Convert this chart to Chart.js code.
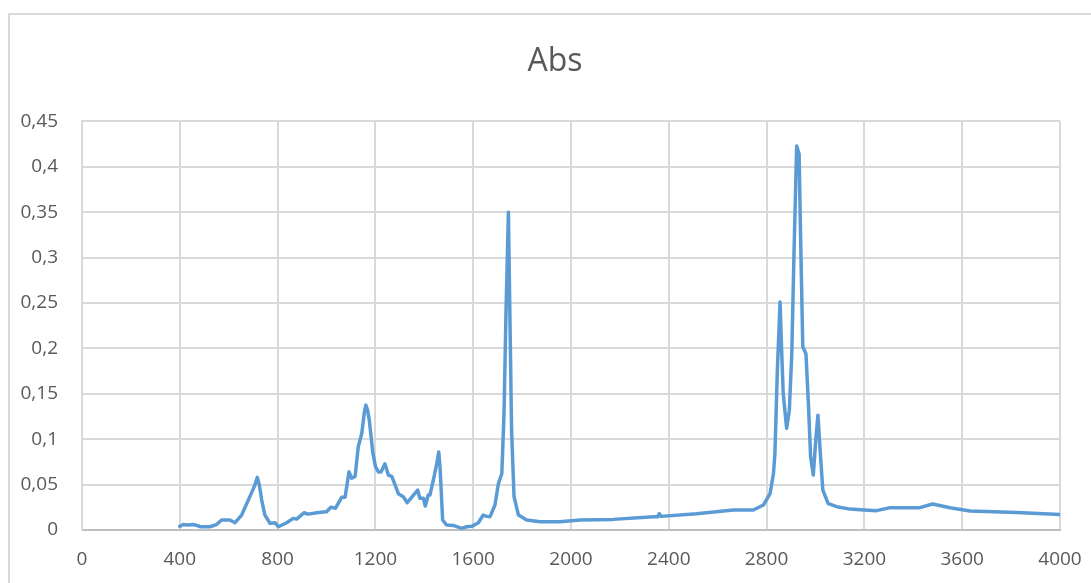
<!DOCTYPE html>
<html>
<head>
<meta charset="utf-8">
<title>Abs</title>
<script src="https://cdn.jsdelivr.net/npm/chart.js@4/dist/chart.umd.min.js"></script>
<style>
    html, body { margin: 0; padding: 0; background: #fff; }
    #frame {
        position: absolute; left: 8px; top: 13px; width: 1100px; height: 600px;
        border-left: 2px solid #d9d9d9; border-top: 2px solid #d9d9d9;
    }
    #wrap { position: absolute; left: 0; top: 0; width: 1091px; height: 583px; }
</style>
</head>
<body>
<div id="frame"></div>
<div id="wrap"><canvas id="absChart" width="1091" height="583"></canvas></div>
<script>
// Wavenumber (x) and absorbance (y)
const wavenumbers = [
    400, 414, 430, 454, 470, 483, 523, 550, 571, 605, 626, 653, 687, 705, 717, 725, 735, 748,
    769, 789, 803, 837, 864, 878, 908, 925, 960, 987, 1000, 1018, 1037, 1062, 1076, 1092,
    1103, 1117, 1130, 1144, 1155, 1161, 1168, 1175, 1189, 1200, 1212, 1223, 1239, 1253,
    1267, 1280, 1294, 1314, 1330, 1348, 1373, 1382, 1396, 1404, 1416, 1423, 1440, 1451,
    1459, 1464, 1467, 1475, 1491, 1519, 1553, 1573, 1594, 1621, 1641, 1655, 1669, 1689,
    1703, 1717, 1726, 1734, 1744, 1750, 1757, 1767, 1785, 1819, 1873, 1955, 2037, 2173,
    2337, 2355, 2361, 2368, 2514, 2664, 2746, 2787, 2814, 2828, 2834, 2844, 2855, 2862,
    2868, 2882, 2893, 2903, 2912, 2923, 2933, 2939, 2948, 2961, 2971, 2980, 2991, 3001,
    3010, 3018, 3030, 3052, 3087, 3141, 3200, 3250, 3305, 3427, 3479, 3550, 3632, 3823, 4000
];
const absorbance = [
    0.004, 0.006, 0.0055, 0.006, 0.005, 0.0036, 0.0036, 0.006, 0.011, 0.011, 0.008, 0.0165, 0.037, 0.048, 0.058, 0.05, 0.033, 0.0165,
    0.0073, 0.008, 0.0036, 0.008, 0.0128, 0.012, 0.019, 0.0175, 0.019, 0.0198, 0.02, 0.025, 0.024, 0.036, 0.036, 0.064,
    0.057, 0.059, 0.092, 0.106, 0.13, 0.1375, 0.132, 0.121, 0.086, 0.07, 0.064, 0.064, 0.073, 0.0605,
    0.059, 0.05, 0.040, 0.0367, 0.030, 0.036, 0.044, 0.035, 0.035, 0.0264, 0.0385, 0.0385, 0.0587, 0.073,
    0.086, 0.07, 0.055, 0.011, 0.0055, 0.005, 0.0018, 0.0036, 0.004, 0.008, 0.0165, 0.015, 0.0147, 0.0275,
    0.051, 0.062, 0.128, 0.238, 0.350, 0.238, 0.11, 0.0367, 0.0165, 0.011, 0.009, 0.009, 0.011, 0.0117,
    0.0147, 0.0145, 0.018, 0.015, 0.018, 0.022, 0.022, 0.0275, 0.040, 0.062, 0.084, 0.176, 0.251, 0.194,
    0.150, 0.112, 0.132, 0.194, 0.304, 0.423, 0.414, 0.323, 0.2017, 0.194, 0.139, 0.0807, 0.0605, 0.099,
    0.1265, 0.0917, 0.044, 0.029, 0.0257, 0.023, 0.022, 0.0213, 0.0246, 0.0246, 0.0286, 0.0246, 0.021, 0.0194, 0.0172
];

const xMin = 0, xMax = 4000, xStep = 400;
const yMin = 0, yMax = 0.45, yStep = 0.05;

const textColor = '#595959';
const gridColor = '#d9d9d9';
const fontFamily = "'Open Sans', 'Liberation Sans', sans-serif";

const points = wavenumbers.map((x, i) => ({ x: x, y: absorbance[i] }));

// Excel centres the title a bit to the right of the canvas centre
const titleShift = {
    id: 'titleShift',
    afterLayout(chart) {
        if (chart.titleBlock) chart.titleBlock.left = 50;
    }
};

new Chart(document.getElementById('absChart'), {
    type: 'scatter',
    data: {
        datasets: [{
            label: 'Abs',
            data: points,
            showLine: true,
            borderColor: '#5b9bd5',
            borderWidth: 3.5,
            borderJoinStyle: 'round',
            borderCapStyle: 'round',
            pointRadius: 0,
            tension: 0
        }]
    },
    options: {
        responsive: false,
        animation: false,
        layout: { padding: { left: 0, right: 31, top: 0, bottom: 0 } },
        plugins: {
            legend: { display: false },
            tooltip: { enabled: false },
            title: {
                display: true,
                text: 'Abs',
                color: textColor,
                font: { family: fontFamily, size: 32, weight: 'normal' },
                padding: { top: 43, bottom: 40 }
            }
        },
        scales: {
            x: {
                type: 'linear',
                min: xMin,
                max: xMax,
                grid: { color: gridColor, lineWidth: 2, drawTicks: false },
                border: { color: '#bfbfbf', width: 2 },
                ticks: {
                    stepSize: xStep,
                    color: textColor,
                    padding: 18,
                    font: { family: fontFamily, size: 19 },
                    maxRotation: 0,
                    callback: v => String(v)
                },
                afterFit: s => { s.height = 53; s.paddingLeft = 0; s.paddingRight = 0; }
            },
            y: {
                type: 'linear',
                min: yMin,
                max: yMax,
                grid: { color: gridColor, lineWidth: 2, drawTicks: false },
                border: { color: gridColor, width: 2 },
                ticks: {
                    stepSize: yStep,
                    color: textColor,
                    padding: 24,
                    font: { family: fontFamily, size: 19 },
                    callback: v => String(Math.round(v * 100) / 100).replace('.', ',')
                },
                afterFit: s => { s.width = 82; s.paddingTop = 0; s.paddingBottom = 0; }
            }
        }
    },
    plugins: [titleShift]
});
</script>
</body>
</html>
